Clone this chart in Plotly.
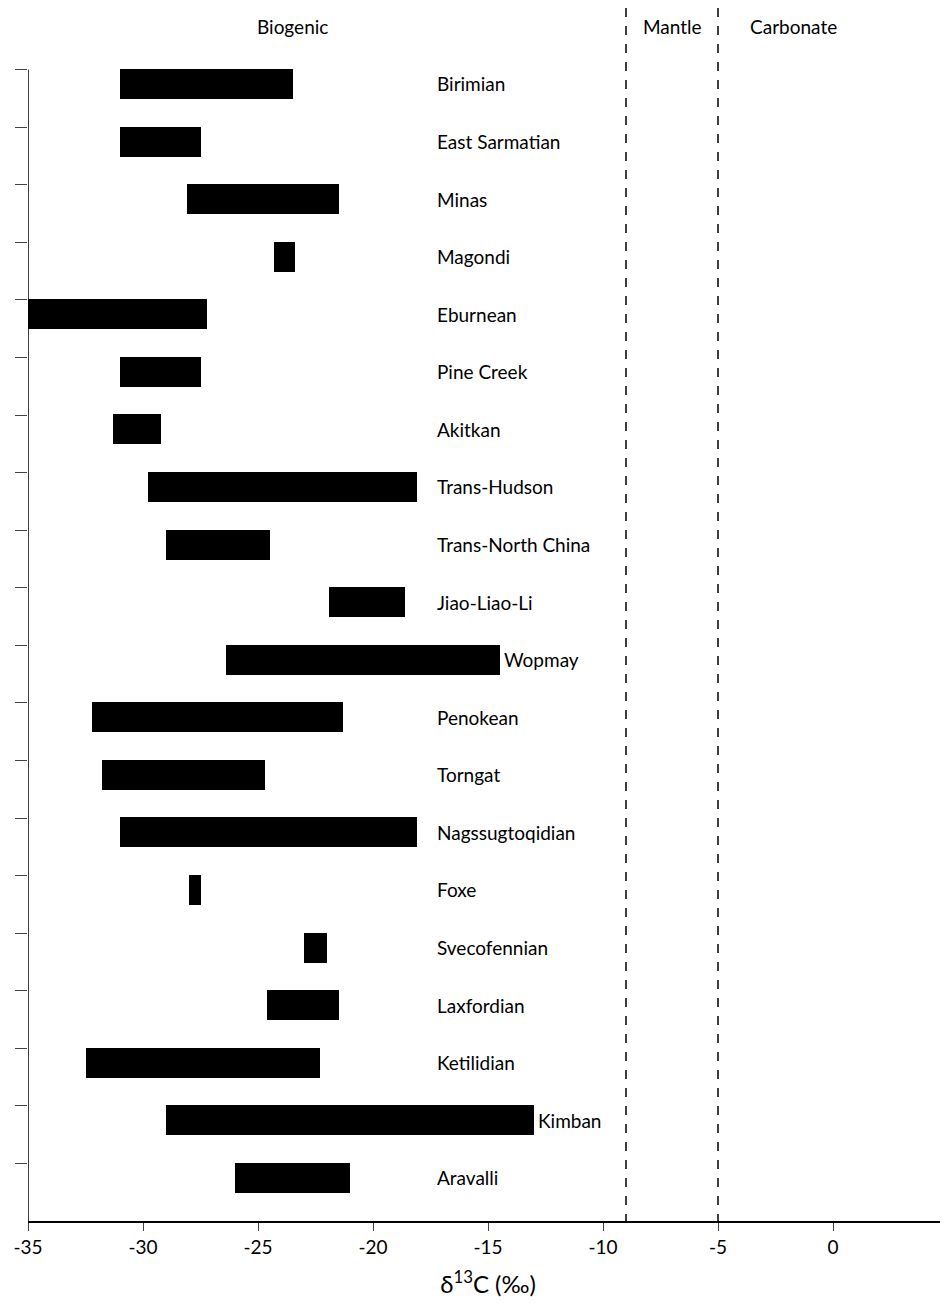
import plotly.graph_objects as go

belts = ["Birimian", "East Sarmatian", "Minas", "Magondi", "Eburnean", "Pine Creek",
         "Akitkan", "Trans-Hudson", "Trans-North China", "Jiao-Liao-Li", "Wopmay",
         "Penokean", "Torngat", "Nagssugtoqidian", "Foxe", "Svecofennian", "Laxfordian",
         "Ketilidian", "Kimban", "Aravalli"]
d13c_min = [-31.0, -31.0, -28.1, -24.3, -35.0, -31.0, -31.3, -29.8, -29.0, -21.9, -26.4,
            -32.2, -31.8, -31.0, -28.0, -23.0, -24.6, -32.5, -29.0, -26.0]
d13c_max = [-23.5, -27.5, -21.5, -23.4, -27.2, -27.5, -29.2, -18.1, -24.5, -18.6, -14.5,
            -21.3, -24.7, -18.1, -27.5, -22.0, -21.5, -22.3, -13.0, -21.0]
x_ticks = [-35, -30, -25, -20, -15, -10, -5, 0, 5]
boundaries = [-9, -5]
fields = ["Biogenic", "Mantle", "Carbonate"]
field_x = [-23.5, -7.0, -1.7]

rows = list(range(len(belts)))
fig = go.Figure()
fig.add_trace(go.Bar(
    y=rows, x=[b - a for a, b in zip(d13c_min, d13c_max)], base=d13c_min,
    orientation="h", width=0.52, marker=dict(color="black", line_width=0),
    showlegend=False))

for i, name in enumerate(belts):
    fig.add_annotation(x=max(-17.3, d13c_max[i] + 0.1), y=i, text=name, showarrow=False,
                       xanchor="left", font=dict(size=19, color="black"))

for xb in boundaries:
    fig.add_shape(type="line", x0=xb, x1=xb, y0=-1.32, y1=19.75,
                  line=dict(color="black", width=1.5, dash="dash"))
for name, xf in zip(fields, field_x):
    fig.add_annotation(x=xf, y=-1.0, text=name, showarrow=False,
                       font=dict(size=19, color="black"))

# left axis line only over the data rows
fig.add_shape(type="line", x0=-35, x1=-35, y0=-0.25, y1=19.75,
              line=dict(color="black", width=1.5))

fig.update_layout(
    width=948, height=1307, plot_bgcolor="white", paper_bgcolor="white",
    margin=dict(l=20, r=8, t=0, b=94), bargap=0,
    font=dict(family="Lato", color="black"),
    xaxis=dict(range=[-35, 5], tickvals=x_ticks, ticktext=[str(v) for v in x_ticks],
               ticks="outside", ticklen=8, showline=True, linecolor="black",
               linewidth=1.5, showgrid=False, zeroline=False, tickfont=dict(size=19),
               automargin=False,
               title=dict(text="δ<sup>13</sup>C (‰)", font=dict(size=24), standoff=20)),
    yaxis=dict(range=[19.75, -1.32], tickvals=[i - 0.25 for i in rows], ticks="outside",
               ticklen=12, showticklabels=False, showline=False, showgrid=False,
               zeroline=False, automargin=False),
)
fig.write_html("out.html")
